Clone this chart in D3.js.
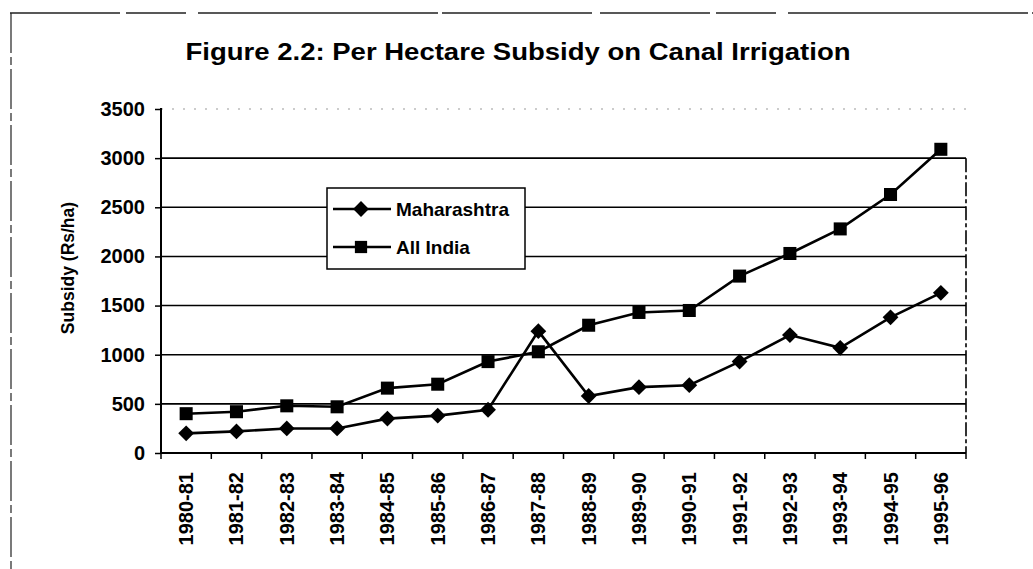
<!DOCTYPE html>
<html>
<head>
<meta charset="utf-8">
<script src="https://cdn.jsdelivr.net/npm/d3@7"></script>
<style>
  body { margin: 0; background: #fff; }
  text { font-family: "Liberation Sans", Arial, sans-serif; font-weight: bold; fill: #000; }
</style>
</head>
<body>
<svg id="chart" width="1033" height="569"></svg>
<script>
var years = ['1980-81', '1981-82', '1982-83', '1983-84', '1984-85', '1985-86', '1986-87', '1987-88',
  '1988-89', '1989-90', '1990-91', '1991-92', '1992-93', '1993-94', '1994-95', '1995-96']
var maharashtra = [200, 220, 250, 250, 350, 380, 440, 1240, 580, 670, 690, 930, 1200, 1070, 1380, 1630]
var allIndia = [400, 420, 480, 470, 660, 700, 930, 1030, 1300, 1430, 1450, 1800, 2030, 2280, 2630, 3090]
var yTicks = [0, 500, 1000, 1500, 2000, 2500, 3000, 3500]

var svg = d3.select('#chart')
var plotLeft = 161, plotRight = 966, plotTop = 109, plotBottom = 453

var x = d3.scaleBand().domain(years).range([plotLeft, plotRight])
var y = d3.scaleLinear().domain([0, 3500]).range([plotBottom, plotTop])

// square diamond, like the spreadsheet marker
var squareDiamond = {
  draw: function (context, size) {
    var r = Math.sqrt(size / 2)
    context.moveTo(0, -r)
    context.lineTo(r, 0)
    context.lineTo(0, r)
    context.lineTo(-r, 0)
    context.closePath()
  }
}

// outer frame (scanned page border)
svg.append('line').attr('x1', 10).attr('x2', 1033).attr('y1', 13).attr('y2', 13)
  .attr('stroke', '#222').attr('stroke-width', 1.5).attr('stroke-dasharray', '110,6,60,12,240,4,150,8')
svg.append('line').attr('x1', 11).attr('x2', 11).attr('y1', 13).attr('y2', 569)
  .attr('stroke', '#222').attr('stroke-width', 1.2).attr('stroke-dasharray', '40,4,8,4')

svg.append('text').attr('x', 518).attr('y', 60).attr('text-anchor', 'middle')
  .attr('textLength', 665).attr('lengthAdjust', 'spacingAndGlyphs')
  .style('font-size', '24px').text('Figure 2.2: Per Hectare Subsidy on Canal Irrigation')

// gridlines
svg.append('g').selectAll('line').data(yTicks.filter(function (d) { return d > 0 && d < 3500 }))
  .enter().append('line')
  .attr('x1', plotLeft).attr('x2', plotRight)
  .attr('y1', function (d) { return y(d) }).attr('y2', function (d) { return y(d) })
  .attr('stroke', '#000').attr('stroke-width', 1.6)
svg.append('line').attr('x1', plotLeft).attr('x2', plotRight).attr('y1', y(3500)).attr('y2', y(3500))
  .attr('stroke', '#999').attr('stroke-width', 1).attr('stroke-dasharray', '2,9')
svg.append('line').attr('x1', plotRight).attr('x2', plotRight).attr('y1', y(3000)).attr('y2', plotBottom)
  .attr('stroke', '#000').attr('stroke-width', 1.6).attr('stroke-dasharray', '14,3,4,3')

// y axis
var yAxis = svg.append('g').attr('transform', 'translate(' + plotLeft + ',0)')
  .call(d3.axisLeft(y).tickValues(yTicks).tickFormat(d3.format('d')).tickSize(6).tickPadding(10))
yAxis.select('.domain').attr('stroke-width', 2).attr('d', 'M0,' + (plotTop - 1) + 'V' + plotBottom)
yAxis.selectAll('.tick line').attr('stroke-width', 1.5)
yAxis.selectAll('text').style('font-size', '20px').style('font-family', '"Liberation Sans", Arial, sans-serif')

svg.append('text').attr('transform', 'translate(74,268) rotate(-90)').attr('text-anchor', 'middle')
  .style('font-size', '17.5px').text('Subsidy (Rs/ha)')

// x axis
var xAxis = svg.append('g').attr('transform', 'translate(0,' + plotBottom + ')')
  .call(d3.axisBottom(x).tickSize(0).tickPadding(0))
xAxis.select('.domain').attr('stroke-width', 2.2).attr('d', 'M' + plotLeft + ',0H' + plotRight)
xAxis.selectAll('.tick text')
  .attr('transform', 'translate(0,19) rotate(-90)')
  .attr('text-anchor', 'end').attr('dy', '0.35em').attr('x', 0).attr('y', 0)
  .style('font-size', '20px').style('font-family', '"Liberation Sans", Arial, sans-serif')
svg.append('g').selectAll('line').data(years.concat(['end']))
  .enter().append('line')
  .attr('x1', function (d, i) { return plotLeft + i * x.step() })
  .attr('x2', function (d, i) { return plotLeft + i * x.step() })
  .attr('y1', plotBottom).attr('y2', plotBottom + 6)
  .attr('stroke', '#000').attr('stroke-width', 1.5)

var line = d3.line()
  .x(function (d, i) { return x(years[i]) + x.bandwidth() / 2 })
  .y(function (d) { return y(d) })

function series(values, shape, size) {
  svg.append('path').datum(values).attr('d', line)
    .attr('fill', 'none').attr('stroke', '#000').attr('stroke-width', 2.6)
  svg.append('g').selectAll('path').data(values).enter().append('path')
    .attr('d', d3.symbol().type(shape).size(size))
    .attr('transform', function (d, i) {
      return 'translate(' + (x(years[i]) + x.bandwidth() / 2) + ',' + y(d) + ')'
    })
    .attr('fill', '#000')
}
series(maharashtra, squareDiamond, 125)
series(allIndia, d3.symbolSquare, 170)

// legend
var legend = svg.append('g')
legend.append('rect').attr('x', 327).attr('y', 188).attr('width', 198).attr('height', 81)
  .attr('fill', '#fff').attr('stroke', '#000').attr('stroke-width', 1.5)
var items = [['Maharashtra', squareDiamond, 125], ['All India', d3.symbolSquare, 150]]
items.forEach(function (it, i) {
  var ly = 209 + i * 38
  legend.append('line').attr('x1', 333).attr('x2', 391).attr('y1', ly).attr('y2', ly)
    .attr('stroke', '#000').attr('stroke-width', 2.6)
  legend.append('path').attr('d', d3.symbol().type(it[1]).size(it[2]))
    .attr('transform', 'translate(361,' + ly + ')').attr('fill', '#000')
  legend.append('text').attr('x', 396).attr('y', ly + 7).style('font-size', '19px').text(it[0])
})
</script>
</body>
</html>
